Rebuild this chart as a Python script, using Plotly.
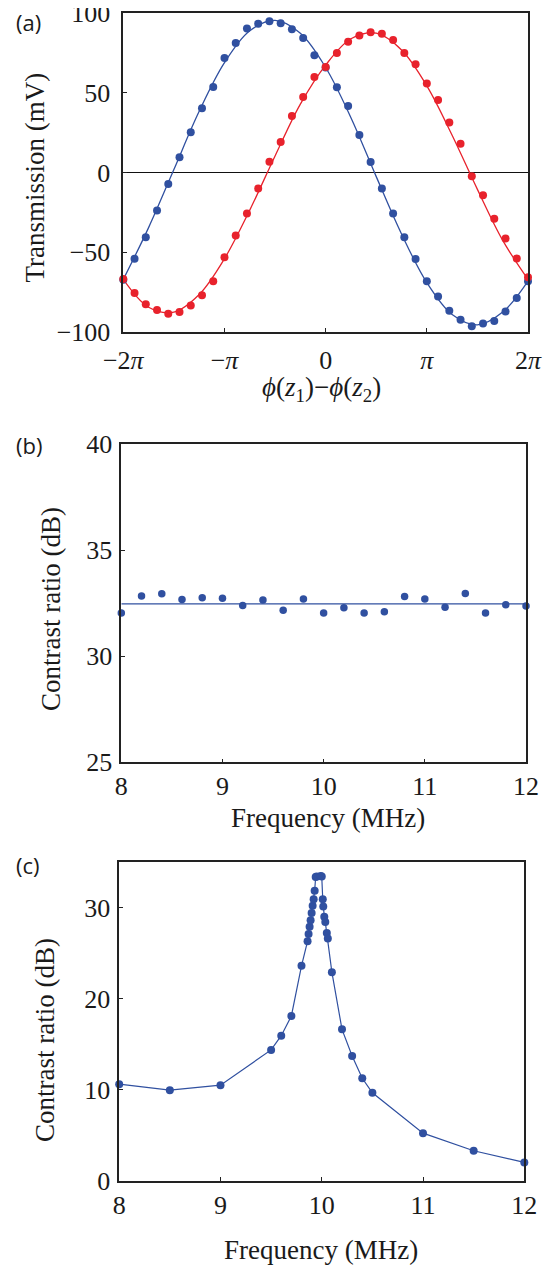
import plotly.graph_objects as go

# panel (a): transmission vs phase difference, phase in degrees (-2pi .. 2pi)
phase_deg = list(range(-360, 361, 20))
blue_mv = [-67.2, -54.0, -40.6, -23.8, -7.1, 9.6, 25.3, 40.4, 53.8, 72.0, 81.4, 90.4, 93.5,
           95.0, 93.7, 90.0, 84.5, 73.6, 66.0, 53.6, 41.8, 23.6, 6.7, -10.0, -25.7, -40.6,
           -54.2, -68.2, -77.8, -86.6, -92.3, -96.4, -94.6, -93.1, -87.2, -78.7, -68.2]
red_mv = [-66.7, -75.5, -82.6, -86.2, -88.5, -87.4, -83.3, -77.0, -68.2, -53.1, -39.5, -25.7,
          -10.0, 6.9, 19.2, 35.6, 47.5, 60.0, 66.3, 75.1, 82.2, 86.0, 88.1, 87.2, 83.3, 75.1,
          68.0, 55.9, 45.6, 31.4, 18.2, -2.3, -14.2, -28.9, -41.4, -53.8, -65.7]
# fitted curves, every pi/4
fit_deg = list(range(-360, 361, 45))
blue_fit = [-67, -34.5, 2, 38.5, 69, 89, 95.5, 87.5, 66, 34.5, -2.5, -38.5, -69, -89, -95.5, -87.5, -68]
red_fit = [-67, -84.5, -87.5, -76.5, -54, -23.5, 10.5, 43, 67.5, 84, 87.5, 77, 54.5, 23.5, -10.5, -42.5, -67]
phase_ticks = [-360, -180, 0, 180, 360]
phase_labels = ['\u22122<i>\u03c0</i>', '\u2212<i>\u03c0</i>', '0', '<i>\u03c0</i>', '2<i>\u03c0</i>']

# panel (b): contrast ratio vs frequency
freq_b = [8.0, 8.2, 8.4, 8.6, 8.8, 9.0, 9.2, 9.4, 9.6, 9.8, 10.0, 10.2, 10.4, 10.6, 10.8,
          11.0, 11.2, 11.4, 11.6, 11.8, 12.0]
contrast_b = [32.03, 32.84, 32.94, 32.67, 32.75, 32.73, 32.39, 32.65, 32.17, 32.70, 32.03,
              32.28, 32.04, 32.09, 32.81, 32.70, 32.31, 32.95, 32.03, 32.43, 32.37]
contrast_b_mean = 32.47

# panel (c): contrast ratio around the 10 MHz resonance
freq_c = [8.0, 8.5, 9.0, 9.5, 9.6, 9.7, 9.8, 9.86, 9.87, 9.88, 9.89, 9.9, 9.91, 9.92, 9.93,
          9.94, 9.95, 9.99, 10.0, 10.01, 10.015, 10.025, 10.035, 10.05, 10.06, 10.1, 10.2,
          10.3, 10.4, 10.5, 11.0, 11.5, 12.0]
contrast_c = [10.6, 9.94, 10.49, 14.36, 15.93, 18.09, 23.6, 26.3, 27.1, 27.9, 28.6, 29.4,
              30.2, 30.9, 31.85, 33.35, 33.4, 33.45, 33.4, 30.9, 30.1, 29.0, 28.4, 27.2,
              26.6, 22.9, 16.62, 13.70, 11.25, 9.65, 5.22, 3.29, 2.01]

BLUE = '#3050a0'
RED = '#e8222c'
SERIF = 'Liberation Serif, Times New Roman, serif'
# the page body keeps its default 8px margin, so the figure is made 8px smaller
PAGE_W, PAGE_H, BODY = 553, 1265, 8
W, H = PAGE_W - BODY, PAGE_H - BODY


def px_x(v):
    # page pixel -> paper fraction
    return (v - BODY) / W


def px_y(v):
    return 1 - (v - BODY) / H


def axis_style(**kw):
    base = dict(showline=True, linecolor='#222222', linewidth=1.5, mirror=True,
                ticks='inside', ticklen=4, tickwidth=1, tickcolor='#222222',
                showgrid=False, zeroline=False, automargin=False, ticklabeloverflow='allow',
                tickfont=dict(family=SERIF, size=26, color='#1a1a1a'))
    base.update(kw)
    return base


fig = go.Figure()

# (a)
fig.add_trace(go.Scatter(x=fit_deg, y=blue_fit, mode='lines', line=dict(color=BLUE, width=1.3, shape='spline'),
                         xaxis='x', yaxis='y', cliponaxis=False))
fig.add_trace(go.Scatter(x=fit_deg, y=red_fit, mode='lines', line=dict(color=RED, width=1.3, shape='spline'),
                         xaxis='x', yaxis='y', cliponaxis=False))
fig.add_trace(go.Scatter(x=phase_deg, y=blue_mv, mode='markers', marker=dict(color=BLUE, size=8),
                         xaxis='x', yaxis='y', cliponaxis=False))
fig.add_trace(go.Scatter(x=phase_deg, y=red_mv, mode='markers', marker=dict(color=RED, size=8),
                         xaxis='x', yaxis='y', cliponaxis=False))

# (b)
fig.add_trace(go.Scatter(x=[freq_b[0], freq_b[-1]], y=[contrast_b_mean, contrast_b_mean], mode='lines',
                         line=dict(color=BLUE, width=1.3), xaxis='x2', yaxis='y2'))
fig.add_trace(go.Scatter(x=freq_b, y=contrast_b, mode='markers', marker=dict(color=BLUE, size=7.5),
                         xaxis='x2', yaxis='y2', cliponaxis=False))

# (c)
fig.add_trace(go.Scatter(x=freq_c, y=contrast_c, mode='lines+markers', line=dict(color=BLUE, width=1.2),
                         marker=dict(color=BLUE, size=8), xaxis='x3', yaxis='y3', cliponaxis=False))

fig.update_layout(
    template='none',
    width=W, height=H, showlegend=False, autosize=False,
    margin=dict(l=0, r=0, t=0, b=0, pad=0),
    paper_bgcolor='white', plot_bgcolor='white',
    xaxis=axis_style(domain=[px_x(123.3), px_x(528)], range=[-360, 360], anchor='y',
                     tickvals=phase_ticks, ticktext=phase_labels, ticklabelstandoff=4),
    yaxis=axis_style(domain=[px_y(332), px_y(13.3)], range=[-100, 100], anchor='x',
                     tickvals=[-100, -50, 0, 50, 100], ticklabelstandoff=6,
                     zeroline=True, zerolinecolor='#111111', zerolinewidth=1.2),
    xaxis2=axis_style(domain=[px_x(121.3), px_x(526)], range=[8, 12], anchor='y2',
                      tickvals=[8, 9, 10, 11, 12]),
    yaxis2=axis_style(domain=[px_y(762.3), px_y(444)], range=[25, 40], anchor='x2',
                      tickvals=[25, 30, 35, 40], ticklabelstandoff=2),
    xaxis3=axis_style(domain=[px_x(119.2), px_x(524.3)], range=[8, 12], anchor='y3',
                      tickvals=[8, 9, 10, 11, 12]),
    yaxis3=axis_style(domain=[px_y(1180.7), px_y(862)], range=[0, 35], anchor='x3',
                      tickvals=[0, 10, 20, 30], ticklabelstandoff=2),
)

title_font = dict(family=SERIF, size=27, color='#1a1a1a')
label_font = dict(family='Open Sans', size=22, color='#1a1a1a')
notes = [
    # y titles
    dict(text='Transmission (mV)', x=px_x(35), y=px_y(177.5), textangle=-90, font=title_font),
    dict(text='Contrast ratio (dB)', x=px_x(51), y=px_y(609), textangle=-90, font=title_font),
    dict(text='Contrast ratio (dB)', x=px_x(45), y=px_y(1040), textangle=-90, font=title_font),
    # x titles
    dict(text='<i>\u03d5</i>(<i>z</i><sub>1</sub>)\u2212<i>\u03d5</i>(<i>z</i><sub>2</sub>)',
         x=px_x(321), y=px_y(389), font=title_font),
    dict(text='Frequency (MHz)', x=px_x(328), y=px_y(818), font=title_font),
    dict(text='Frequency (MHz)', x=px_x(321), y=px_y(1250), font=title_font),
    # panel labels
    dict(text='(a)', x=px_x(14), y=px_y(22), xanchor='left', font=label_font),
    dict(text='(b)', x=px_x(14), y=px_y(445), xanchor='left', font=label_font),
    dict(text='(c)', x=px_x(14), y=px_y(865), xanchor='left', font=label_font),
]
for n in notes:
    n.setdefault('xanchor', 'center')
    fig.add_annotation(xref='paper', yref='paper', yanchor='middle', showarrow=False, **n)

fig.write_html("out.html")
